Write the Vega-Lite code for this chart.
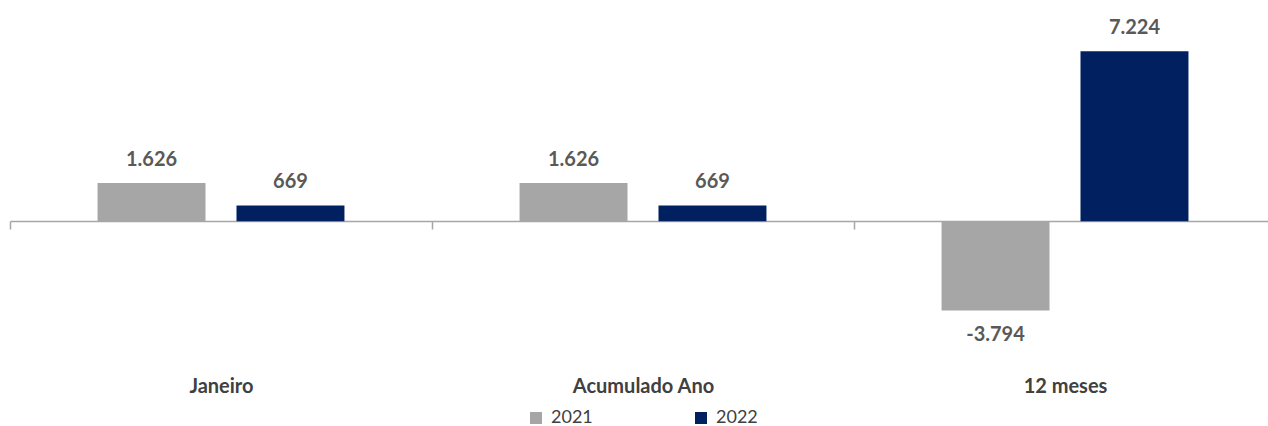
{
  "$schema": "https://vega.github.io/schema/vega-lite/v6.json",
  "width": 1266,
  "height": 294,
  "autosize": "none",
  "padding": {"left": 10, "top": 33, "right": 0, "bottom": 99},
  "background": "white",
  "config": {
    "view": {"stroke": null},
    "locale": {"number": {"decimal": ",", "thousands": ".", "grouping": [3], "currency": ["R$", ""], "minus": "-"}},
    "font": "Lato"
  },
  "data": {
    "values": [
      {"periodo": "Janeiro", "ano": "2021", "valor": 1626},
      {"periodo": "Janeiro", "ano": "2022", "valor": 669},
      {"periodo": "Acumulado Ano", "ano": "2021", "valor": 1626},
      {"periodo": "Acumulado Ano", "ano": "2022", "valor": 669},
      {"periodo": "12 meses", "ano": "2021", "valor": -3794},
      {"periodo": "12 meses", "ano": "2022", "valor": 7224}
    ]
  },
  "encoding": {
    "x": {
      "field": "periodo", "type": "nominal",
      "sort": ["Janeiro", "Acumulado Ano", "12 meses"],
      "scale": {"paddingInner": 0, "paddingOuter": 0},
      "axis": {
        "orient": "bottom", "offset": -106, "title": null, "labelAngle": 0,
        "tickBand": "extent", "tickSize": 8, "tickColor": "#a6a6a6", "domainColor": "#a6a6a6",
        "domainWidth": 1.5, "tickWidth": 1.5,
        "labelPadding": 147, "labelFont": "Lato", "labelFontWeight": "bold", "labelFontSize": 20,
        "labelColor": "#404040"
      }
    },
    "xOffset": {
      "field": "ano", "type": "nominal",
      "scale": {"paddingInner": 0.223, "paddingOuter": 0.63}
    },
    "y": {
      "field": "valor", "type": "quantitative",
      "scale": {"domain": [-4500, 8000], "nice": false, "zero": false},
      "axis": null
    }
  },
  "layer": [
    {
      "mark": {"type": "bar"},
      "encoding": {
        "color": {
          "field": "ano", "type": "nominal",
          "scale": {"domain": ["2021", "2022"], "range": ["#a6a6a6", "#002060"]},
          "legend": {
            "title": null, "orient": "none", "direction": "horizontal",
            "legendX": 517, "legendY": 376, "padding": 0,
            "symbolType": "square", "symbolSize": 144, "symbolStrokeWidth": 0,
            "labelFont": "Lato", "labelFontSize": 18, "labelColor": "#404040",
            "labelOffset": 6, "columnPadding": 99
          }
        }
      }
    },
    {
      "transform": [{"filter": "datum.valor >= 0"}],
      "mark": {"type": "text", "baseline": "middle", "dy": -23, "font": "Lato", "fontWeight": "bold", "fontSize": 20, "color": "#595959"},
      "encoding": {"text": {"field": "valor", "type": "quantitative", "format": ",d"}}
    },
    {
      "transform": [{"filter": "datum.valor < 0"}],
      "mark": {"type": "text", "baseline": "middle", "dy": 25, "font": "Lato", "fontWeight": "bold", "fontSize": 20, "color": "#595959"},
      "encoding": {"text": {"field": "valor", "type": "quantitative", "format": ",d"}}
    }
  ]
}
